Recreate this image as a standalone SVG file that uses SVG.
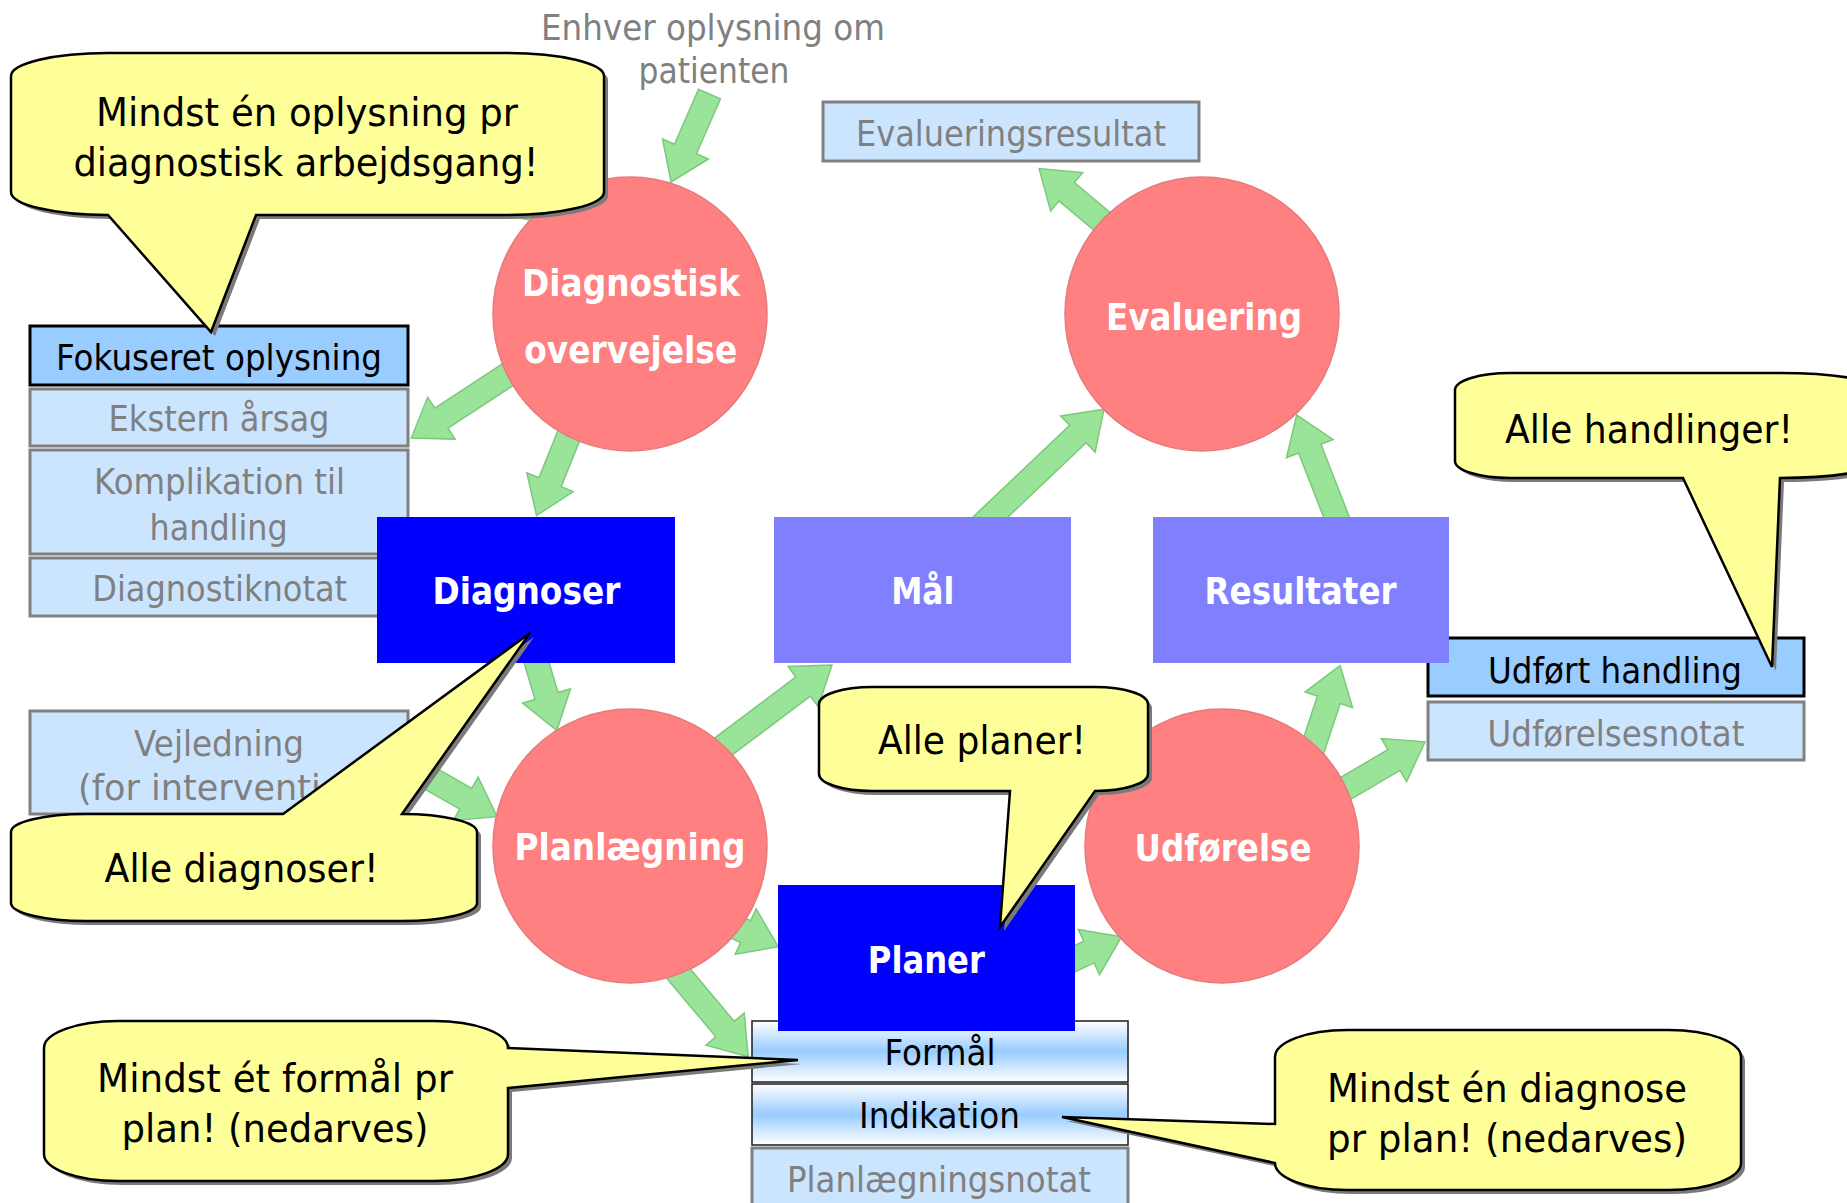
<svg xmlns="http://www.w3.org/2000/svg" xmlns:xlink="http://www.w3.org/1999/xlink" width="1847" height="1203" viewBox="0 0 1847 1203">
<defs>
<style>
.arrow{fill:#9AE49A;stroke:#7CC87C;stroke-width:1.5}
.circ{fill:#FF8080;stroke:#E57A7A;stroke-width:1.5}
.dark{fill:#0000FF}
.light{fill:#8080FF}
.box{fill:#CCE5FF;stroke:#808080;stroke-width:3}
.fbox{fill:#99CCFF;stroke:#000;stroke-width:3}
.gbox{fill:url(#gband);stroke:#1a1a1a;stroke-width:1.5}
.callout{fill:#FFFF99;stroke:#000;stroke-width:2.5}
.shadow{fill:#7a7a7a}
text{font-family:"DejaVu Sans",Verdana,sans-serif;text-anchor:middle}
.bt{font-weight:bold;font-size:38px;fill:#fff}
.gt{font-size:36px;fill:#808080}
.kt{font-size:36px;fill:#000}
.ct{font-size:39px;fill:#000}
.et{font-size:35px;fill:#808080}
</style>
<linearGradient id="gband" x1="0" y1="0" x2="0" y2="1">
<stop offset="0" stop-color="#FFFFFF"/>
<stop offset="0.5" stop-color="#99CCFF"/>
<stop offset="1" stop-color="#FFFFFF"/>
</linearGradient>
<path id="c1" d="M 11,76 A97,23 0 0 1 108,53 L 507,53 A97,23 0 0 1 604,76 L 604,192 A97,23 0 0 1 507,215 L 256,215 L 211,332 L 108,215 A97,23 0 0 1 11,192 Z"/>
<path id="c2" d="M 11,832 A75,18 0 0 1 86,814 L 283,814 L 530,633 L 402,814 A75,18 0 0 1 477,832 L 477,903 A75,18 0 0 1 402,921 L 86,921 A75,18 0 0 1 11,903 Z"/>
<path id="c3" d="M 819,704 A53,17 0 0 1 872,687 L 1095,687 A53,17 0 0 1 1148,704 L 1148,774 A53,17 0 0 1 1095,791 L 1000,927 L 1010,791 L 872,791 A53,17 0 0 1 819,774 Z"/>
<path id="c4" d="M 1455,390 A55,17 0 0 1 1510,373 L 1780,373 A100,17 0 0 1 1880,390 L 1880,461 A100,17 0 0 1 1780,478 L 1772,667 L 1683,478 L 1510,478 A55,17 0 0 1 1455,461 Z"/>
<path id="c5" d="M 44,1048 A74,27 0 0 1 118,1021 L 434,1021 A74,27 0 0 1 508,1048 L 798,1060 L 508,1088 L 508,1154 A74,27 0 0 1 434,1181 L 118,1181 A74,27 0 0 1 44,1154 Z"/>
<path id="c6" d="M 1275,1057 A72,27 0 0 1 1347,1030 L 1669,1030 A72,27 0 0 1 1741,1057 L 1741,1163 A72,27 0 0 1 1669,1190 L 1347,1190 A72,27 0 0 1 1275,1163 L 1062,1117 L 1275,1124 Z"/>
</defs>
<rect width="1847" height="1203" fill="#FFFFFF"/>

<g id="connectors">
<polygon class="arrow" points="0,-12 149,-12 149,-25 185,0 149,25 149,12 0,12" transform="translate(560,215) rotate(193.4)"/>
<polygon class="arrow" points="0,-12 60,-12 60,-25 96,0 60,25 60,12 0,12" transform="translate(709.5,94) rotate(113.6)"/>
<polygon class="arrow" points="0,-12 106,-12 106,-25 142,0 106,25 106,12 0,12" transform="translate(530,360) rotate(146.7)"/>
<polygon class="arrow" points="0,-12 80,-12 80,-25 116,0 80,25 80,12 0,12" transform="translate(580,408) rotate(112)"/>
<polygon class="arrow" points="0,-12 48,-12 48,-25 84,0 48,25 48,12 0,12" transform="translate(532.8,650) rotate(73.4)"/>
<polygon class="arrow" points="0,-12 70,-12 70,-25 106,0 70,25 70,12 0,12" transform="translate(405,764) rotate(29.8)"/>
<polygon class="arrow" points="0,-12 129,-12 129,-25 165,0 129,25 129,12 0,12" transform="translate(700,764) rotate(-36.9)"/>
<polygon class="arrow" points="0,-12 134,-12 134,-25 170,0 134,25 134,12 0,12" transform="translate(980.7,526.3) rotate(-43.5)"/>
<polygon class="arrow" points="0,-12 114,-12 114,-25 150,0 114,25 114,12 0,12" transform="translate(1154,265) rotate(-140)"/>
<polygon class="arrow" points="0,-12 89,-12 89,-25 125,0 89,25 89,12 0,12" transform="translate(1342.1,531.5) rotate(-111.3)"/>
<polygon class="arrow" points="0,-12 84,-12 84,-25 120,0 84,25 84,12 0,12" transform="translate(669.4,896.4) rotate(24.8)"/>
<polygon class="arrow" points="0,-12 114,-12 114,-25 150,0 114,25 114,12 0,12" transform="translate(651.8,941.8) rotate(50)"/>
<polygon class="arrow" points="0,-12 32,-12 32,-25 68,0 32,25 32,12 0,12" transform="translate(1060,965.7) rotate(-25.2)"/>
<polygon class="arrow" points="0,-12 114,-12 114,-25 150,0 114,25 114,12 0,12" transform="translate(1293,808) rotate(-71.7)"/>
<polygon class="arrow" points="0,-12 124,-12 124,-25 160,0 124,25 124,12 0,12" transform="translate(1287,822.8) rotate(-30.4)"/>
</g>

<g id="enhver">
<text class="et" x="713" y="39.5" textLength="344" lengthAdjust="spacingAndGlyphs">Enhver oplysning om</text>
<text class="et" x="714" y="83" textLength="151" lengthAdjust="spacingAndGlyphs">patienten</text>
</g>

<g id="evalueringsresultat">
<rect class="box" x="823" y="102" width="376" height="59"/>
<text class="gt" x="1011" y="146" textLength="310" lengthAdjust="spacingAndGlyphs">Evalueringsresultat</text>
</g>

<g id="fokuseret-oplysning">
<rect class="fbox" x="30" y="326" width="378" height="59"/>
<text class="kt" x="219" y="370" textLength="326" lengthAdjust="spacingAndGlyphs">Fokuseret oplysning</text>
</g>
<g id="ekstern-aarsag">
<rect class="box" x="30" y="389" width="378" height="57"/>
<text class="gt" x="219" y="431" textLength="221" lengthAdjust="spacingAndGlyphs">Ekstern årsag</text>
</g>
<g id="komplikation">
<rect class="box" x="30" y="450" width="378" height="104"/>
<text class="gt" x="219.5" y="494" textLength="251" lengthAdjust="spacingAndGlyphs">Komplikation til</text>
<text class="gt" x="218.6" y="539.5" textLength="138" lengthAdjust="spacingAndGlyphs">handling</text>
</g>
<g id="diagnostiknotat">
<rect class="box" x="30" y="558" width="378" height="58"/>
<text class="gt" x="219.7" y="601" textLength="255" lengthAdjust="spacingAndGlyphs">Diagnostiknotat</text>
</g>
<g id="vejledning">
<rect class="box" x="30" y="711" width="378" height="103"/>
<text class="gt" x="219" y="756" textLength="170" lengthAdjust="spacingAndGlyphs">Vejledning</text>
<text class="gt" x="78" y="800" style="text-anchor:start" textLength="300" lengthAdjust="spacingAndGlyphs">(for intervention)</text>
</g>

<g id="udfoert-handling">
<rect class="fbox" x="1428" y="638" width="376" height="58"/>
<text class="kt" x="1615" y="683" textLength="254" lengthAdjust="spacingAndGlyphs">Udført handling</text>
</g>
<g id="udfoerelsesnotat">
<rect class="box" x="1428" y="702" width="376" height="58"/>
<text class="gt" x="1616" y="745.5" textLength="257" lengthAdjust="spacingAndGlyphs">Udførelsesnotat</text>
</g>

<g id="formaal">
<rect class="gbox" x="752" y="1021" width="376" height="61"/>
<text class="kt" x="940" y="1065" textLength="111" lengthAdjust="spacingAndGlyphs">Formål</text>
</g>
<g id="indikation">
<rect class="gbox" x="752" y="1084" width="376" height="61"/>
<text class="kt" x="939.5" y="1128" textLength="161" lengthAdjust="spacingAndGlyphs">Indikation</text>
</g>
<g id="planlaegningsnotat">
<rect class="box" x="752" y="1148" width="376" height="70"/>
<text class="gt" x="939" y="1192" textLength="304" lengthAdjust="spacingAndGlyphs">Planlægningsnotat</text>
</g>

<g id="diagnoser">
<rect class="dark" x="377" y="517" width="298" height="146"/>
<text class="bt" x="526.4" y="604" textLength="188" lengthAdjust="spacingAndGlyphs">Diagnoser</text>
</g>
<g id="maal">
<rect class="light" x="774" y="517" width="297" height="146"/>
<text class="bt" x="922.7" y="604" textLength="63" lengthAdjust="spacingAndGlyphs">Mål</text>
</g>
<g id="resultater">
<rect class="light" x="1153" y="517" width="296" height="146"/>
<text class="bt" x="1300.5" y="604" textLength="192" lengthAdjust="spacingAndGlyphs">Resultater</text>
</g>
<g id="planer">
<rect class="dark" x="778" y="885" width="297" height="146"/>
<text class="bt" x="926.3" y="972.7" textLength="117" lengthAdjust="spacingAndGlyphs">Planer</text>
</g>

<g id="diagnostisk-overvejelse">
<circle class="circ" cx="630" cy="314" r="137"/>
<text class="bt" x="631" y="296" textLength="218" lengthAdjust="spacingAndGlyphs">Diagnostisk</text>
<text class="bt" x="630.7" y="363" textLength="213" lengthAdjust="spacingAndGlyphs">overvejelse</text>
</g>
<g id="evaluering">
<circle class="circ" cx="1202" cy="314" r="137"/>
<text class="bt" x="1204" y="330" textLength="196" lengthAdjust="spacingAndGlyphs">Evaluering</text>
</g>
<g id="planlaegning">
<circle class="circ" cx="630" cy="846" r="137"/>
<text class="bt" x="630" y="860" textLength="231" lengthAdjust="spacingAndGlyphs">Planlægning</text>
</g>
<g id="udfoerelse">
<circle class="circ" cx="1222" cy="846" r="137"/>
<text class="bt" x="1223" y="861" textLength="177" lengthAdjust="spacingAndGlyphs">Udførelse</text>
</g>

<g id="callout-oplysning">
<use xlink:href="#c1" class="shadow" transform="translate(4,4)"/>
<use xlink:href="#c1" class="callout"/>
<text class="ct" x="307" y="126" textLength="422" lengthAdjust="spacingAndGlyphs">Mindst én oplysning pr</text>
<text class="ct" x="306" y="176" textLength="465" lengthAdjust="spacingAndGlyphs">diagnostisk arbejdsgang!</text>
</g>
<g id="callout-diagnoser">
<use xlink:href="#c2" class="shadow" transform="translate(4,4)"/>
<use xlink:href="#c2" class="callout"/>
<text class="ct" x="241.5" y="882" textLength="274" lengthAdjust="spacingAndGlyphs">Alle diagnoser!</text>
</g>
<g id="callout-planer">
<use xlink:href="#c3" class="shadow" transform="translate(4,4)"/>
<use xlink:href="#c3" class="callout"/>
<text class="ct" x="982" y="754" textLength="208" lengthAdjust="spacingAndGlyphs">Alle planer!</text>
</g>
<g id="callout-handlinger">
<use xlink:href="#c4" class="shadow" transform="translate(4,4)"/>
<use xlink:href="#c4" class="callout"/>
<text class="ct" x="1649" y="443" textLength="288" lengthAdjust="spacingAndGlyphs">Alle handlinger!</text>
</g>
<g id="callout-formaal">
<use xlink:href="#c5" class="shadow" transform="translate(4,4)"/>
<use xlink:href="#c5" class="callout"/>
<text class="ct" x="275" y="1092" textLength="356" lengthAdjust="spacingAndGlyphs">Mindst ét formål pr</text>
<text class="ct" x="275" y="1142" textLength="307" lengthAdjust="spacingAndGlyphs">plan! (nedarves)</text>
</g>
<g id="callout-diagnose">
<use xlink:href="#c6" class="shadow" transform="translate(4,4)"/>
<use xlink:href="#c6" class="callout"/>
<text class="ct" x="1507" y="1102" textLength="360" lengthAdjust="spacingAndGlyphs">Mindst én diagnose</text>
<text class="ct" x="1507" y="1152" textLength="360" lengthAdjust="spacingAndGlyphs">pr plan! (nedarves)</text>
</g>
</svg>
